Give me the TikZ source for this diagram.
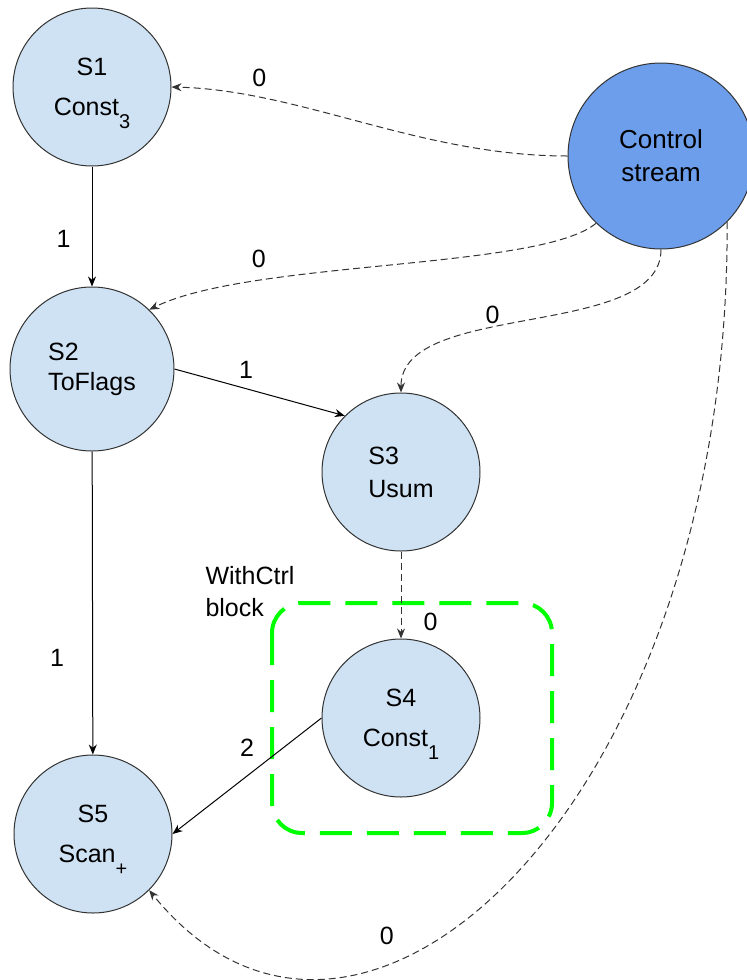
\documentclass[tikz,border=0pt]{standalone}
\usepackage{fontspec}
\setmainfont{Liberation Sans}
\usepackage{xcolor}
\usetikzlibrary{arrows.meta}

\definecolor{stagefill}{HTML}{CFE2F3}
\definecolor{ctrlfill}{HTML}{6D9EEB}
\definecolor{blockgreen}{HTML}{00FF00}
\definecolor{edgegray}{HTML}{333333}
\newcommand{\lowsub}[1]{\raisebox{-6.5pt}[0pt][0pt]{\fontsize{10}{10}\selectfont #1}}

\begin{document}
\begin{tikzpicture}[x=0.5pt, y=-0.5pt, line width=0.5pt, >={Stealth[length=5pt,width=4pt]},
    stage/.style = {draw=edgegray, circle, fill=stagefill, minimum size=79pt, inner sep=0pt, font=\fontsize{12.5}{14}\selectfont},
    ctrledge/.style = {draw=edgegray, dash pattern=on 3.5pt off 2pt},
    lbl/.style = {inner sep=1pt, text=black, font=\fontsize{12.5}{15}\selectfont}]
      \useasboundingbox (0,0) rectangle (746,980);

      \node[stage, align=center] (s_1) at (92,87) {S1\\[6pt]Const\lowsub{3}};
      \node[stage, align=left, minimum size=82pt, font=\fontsize{12.5}{15}\selectfont] (s_2) at (92,369) {S2\\ToFlags};
      \node[stage, align=left, font=\fontsize{12.5}{16.5}\selectfont] (s_3) at (401,472) {S3\\Usum};
      \node[stage, align=center] (s_4) at (401,718) {S4\\[6pt]Const\lowsub{1}};
      \node[stage, align=center] (s_5) at (93,834) {S5\\[6pt]Scan\lowsub{+}};
      \node[stage, fill=ctrlfill, align=center, minimum size=93pt, font=\fontsize{13}{16.5}\selectfont] (ctrl) at (661,156) {Control\\stream};

      % WithCtrl block
      \draw[blockgreen, line width=2pt, dash pattern=on 16pt off 7.5pt, rounded corners=15pt] (272,603) rectangle (552,833);
      \node[lbl, align=left, anchor=north west, inner sep=0pt, font=\fontsize{12.5}{16}\selectfont] (block_lbl) at (205,566) {WithCtrl\\block};

      \draw[->] (s_1) -- node[lbl, pos=0.6, left=9.5pt] {1} (s_2);
      \draw[->] (s_2.east) -- node[lbl, pos=0.42, above=4pt] {1} (s_3.135);
      \draw[->] (s_2) -- node[lbl, pos=0.68, left=13pt] {1} (s_5);
      \draw[->] (s_4.west) -- node[lbl, pos=0.5, above=8.5pt] {2} (s_5.east);
      \draw[->, ctrledge] (s_3) -- node[lbl, pos=0.81, right=10pt] {0} (s_4);

      \draw[->, ctrledge] (ctrl.west) .. controls (420,156) and (300,90) .. node[lbl, pos=0.77, above=4pt] {0} (s_1.east);
      \draw[->, ctrledge] (ctrl.-134) .. controls (540,270) and (250,260) .. node[lbl, pos=0.74, above=5.5pt] {0} (s_2.46);
      \draw[->, ctrledge] (ctrl.south) .. controls (661,340) and (401,300) .. node[lbl, pos=0.6, above=1pt] {0} (s_3.north);
      \draw[->, ctrledge] (ctrl.-45) .. controls (730,800) and (360,1150) .. node[lbl, pos=0.675, above=8pt] {0} (s_5.-45);
    \end{tikzpicture}
\end{document}
